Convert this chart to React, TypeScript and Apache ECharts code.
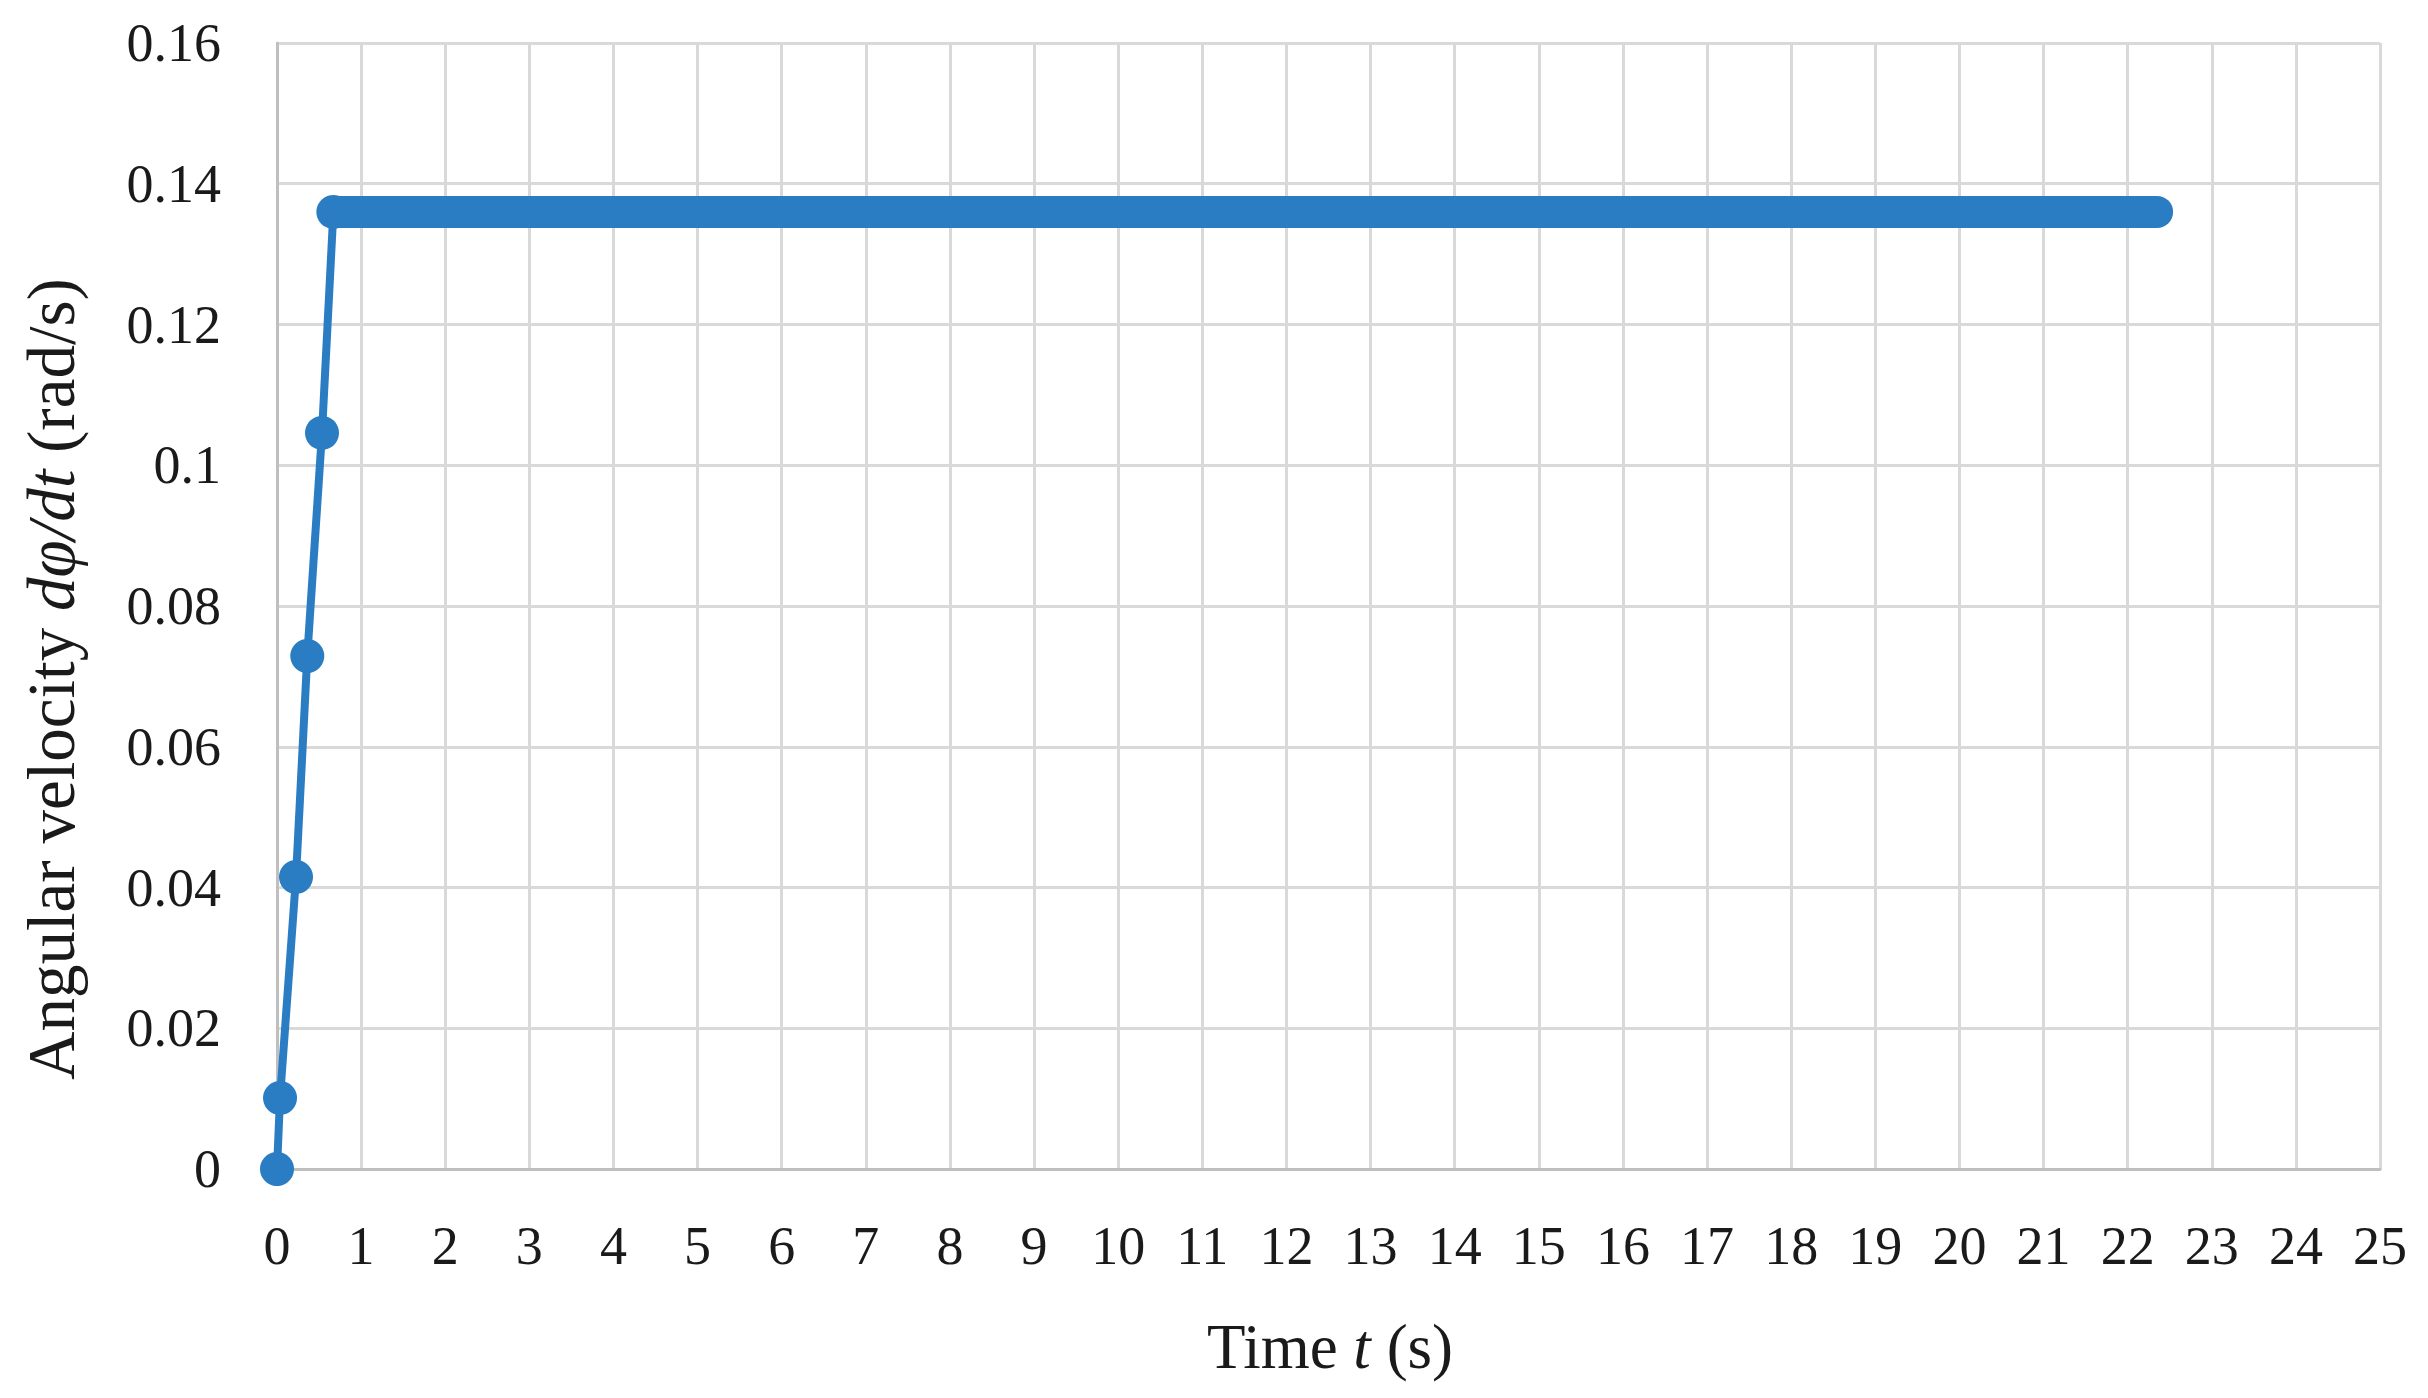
import React, { useEffect, useRef } from "react";
import * as echarts from "echarts";

// Rising part (time s, angular velocity rad/s)
const riseTime = [0, 0.036, 0.226, 0.36, 0.535, 0.67];
const riseOmega = [0, 0.0101, 0.0415, 0.0729, 0.1046, 0.136];
// Plateau (dense markers merge into a band): start / end
const plateauTime = [0.67, 22.35];
const plateauOmega = [0.136, 0.136];

const xMin = 0;
const xMax = 25;
const xStep = 1;
const yMin = 0;
const yMax = 0.16;
const yStep = 0.02;

const BLUE = "#2a7dc3";
const GRID = "#d9d9d9";
const AXIS = "#bfbfbf";
const FONT = "'Liberation Serif', 'DejaVu Serif', serif";

export default function App() {
  const ref = useRef<HTMLDivElement>(null);
  useEffect(() => {
    if (!ref.current) return;
    const chart = echarts.init(ref.current, null, { renderer: "svg" });
    const rise = riseTime.map((t, i) => [t, riseOmega[i]]);
    const plateau = plateauTime.map((t, i) => [t, plateauOmega[i]]);
    chart.setOption({
      animation: false,
      backgroundColor: "#ffffff",
      grid: { left: 277, right: 48, top: 43, bottom: 229, containLabel: false },
      xAxis: {
        type: "value",
        min: xMin,
        max: xMax,
        interval: xStep,
        axisLine: { show: true, lineStyle: { color: AXIS, width: 3 } },
        axisTick: { show: false },
        splitLine: { show: true, lineStyle: { color: GRID, width: 3 } },
        axisLabel: {
          color: "#1a1a1a",
          fontFamily: FONT,
          fontSize: 54,
          margin: 50,
        },
      },
      yAxis: {
        type: "value",
        min: yMin,
        max: yMax,
        interval: yStep,
        axisLine: { show: true, lineStyle: { color: AXIS, width: 3 } },
        axisTick: { show: false },
        splitLine: { show: true, lineStyle: { color: GRID, width: 3 } },
        axisLabel: {
          color: "#1a1a1a",
          fontFamily: FONT,
          fontSize: 54,
          margin: 56,
          formatter: (v: number) => String(parseFloat(v.toFixed(2))),
        },
      },
      graphic: [
        {
          type: "text",
          x: 1330,
          y: 1347,
          style: {
            text: "Time {i|t} (s)",
            fontFamily: FONT,
            fontSize: 63,
            fill: "#1a1a1a",
            align: "center",
            verticalAlign: "middle",
            rich: {
              i: { fontStyle: "italic", fontFamily: FONT, fontSize: 63, fill: "#1a1a1a" },
            },
          },
        },
        {
          type: "text",
          x: 51,
          y: 679,
          rotation: Math.PI / 2,
          style: {
            text: "Angular velocity {i|dφ/dt} (rad/s)",
            fontFamily: FONT,
            fontSize: 67,
            fill: "#1a1a1a",
            align: "center",
            verticalAlign: "middle",
            rich: {
              i: { fontStyle: "italic", fontFamily: FONT, fontSize: 67, fill: "#1a1a1a" },
            },
          },
        },
      ],
      series: [
        {
          type: "line",
          data: plateau,
          symbol: "none",
          lineStyle: { color: BLUE, width: 32, cap: "round" },
          z: 2,
        },
        {
          type: "line",
          data: rise,
          symbol: "circle",
          symbolSize: 34,
          itemStyle: { color: BLUE },
          lineStyle: { color: BLUE, width: 8 },
          z: 3,
        },
      ],
    });
    return () => chart.dispose();
  }, []);
  return (
    <div
      ref={ref}
      style={{ position: "absolute", left: 0, top: 0, width: 2428, height: 1398 }}
    />
  );
}
